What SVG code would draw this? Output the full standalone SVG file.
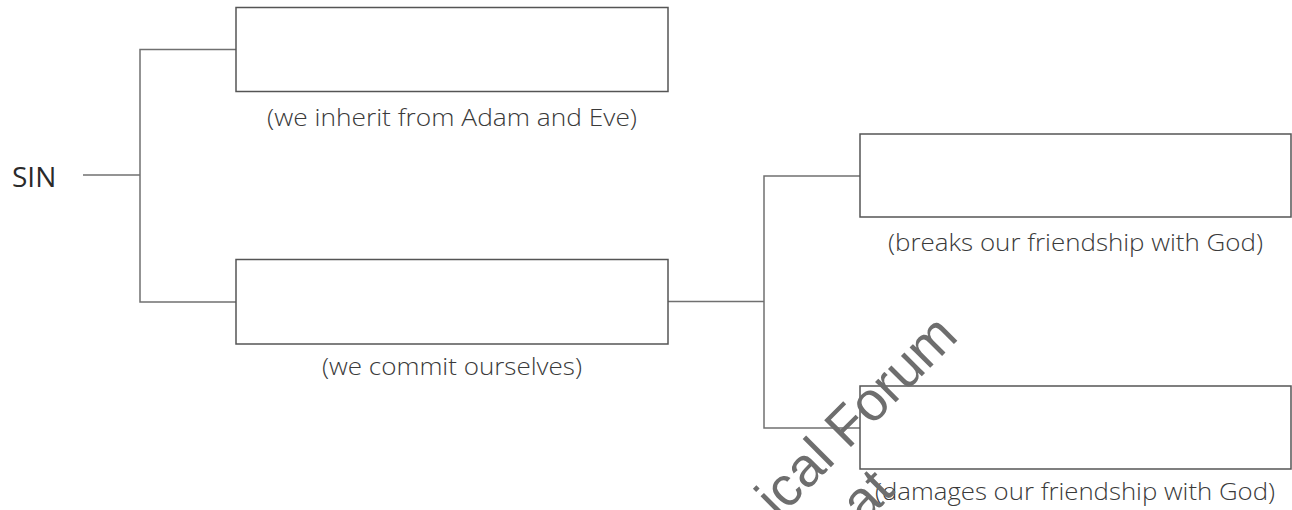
<svg xmlns="http://www.w3.org/2000/svg" width="1292" height="510" viewBox="0 0 1292 510">
<style>
.box{fill:#fff;stroke:#555;stroke-width:1.5}
.conn{fill:none;stroke:#707070;stroke-width:1.5}
.lbl{font-family:"Open Sans","Liberation Sans",sans-serif;font-weight:300;font-size:24px;fill:#3a3a3a;text-anchor:middle}
.sin{font-family:"Open Sans","Liberation Sans",sans-serif;font-size:28px;fill:#2a2a2a}
.wm{font-family:"Liberation Sans",sans-serif;font-size:55px;fill:#6e6e6e;text-anchor:end}
</style>
<rect width="1292" height="510" fill="#fff"/>
<g id="connectors">
<path class="conn" d="M83,175 H140"/>
<path class="conn" d="M236,49.5 H140 V302 H236"/>
<path class="conn" d="M668,301.5 H764"/>
<path class="conn" d="M860,176 H764 V428 H860"/>
</g>
<g id="sin"><text class="sin" x="12" y="187">SIN</text></g>
<g id="original">
<rect class="box" x="236" y="7.5" width="432" height="84"/>
<text class="lbl" x="452" y="126" textLength="370" lengthAdjust="spacingAndGlyphs">(we inherit from Adam and Eve)</text>
</g>
<g id="actual">
<rect class="box" x="236" y="259.5" width="432" height="84.5"/>
<text class="lbl" x="452" y="375" textLength="260" lengthAdjust="spacingAndGlyphs">(we commit ourselves)</text>
</g>
<g id="mortal">
<rect class="box" x="860" y="134" width="431" height="83"/>
<text class="lbl" x="1075.5" y="251" textLength="375" lengthAdjust="spacingAndGlyphs">(breaks our friendship with God)</text>
</g>
<g id="venial">
<rect class="box" x="860" y="386" width="431" height="83"/>
<text class="lbl" x="1075" y="500" textLength="400" lengthAdjust="spacingAndGlyphs">(damages our friendship with God)</text>
</g>
<g id="watermark">
<text class="wm" transform="translate(960,338) rotate(-45)">ical Forum</text>
<text class="wm" transform="translate(896,492) rotate(-45)">at</text>
</g>
</svg>
